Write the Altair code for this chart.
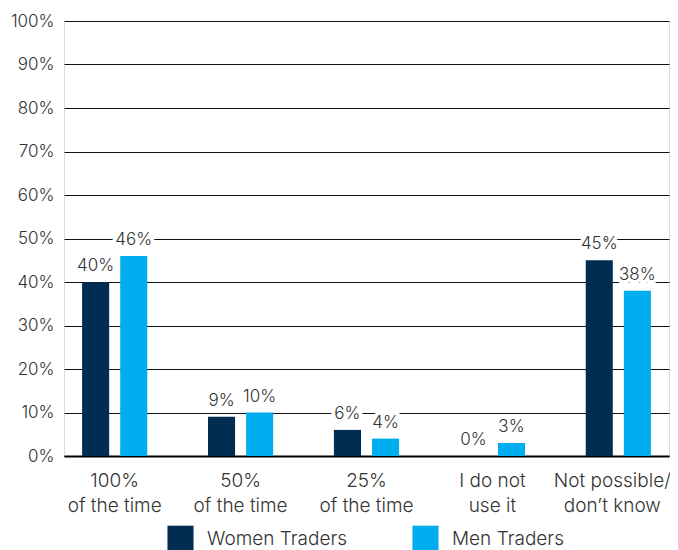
import altair as alt
import pandas as pd

categories = ["100%|of the time", "50%|of the time", "25%|of the time", "I do not|use it", "Not possible/|don\u2019t know"]
series = ["Women Traders", "Men Traders"]
women = [40, 9, 6, 0, 45]
men = [46, 10, 4, 3, 38]
colors = ["#022d52", "#00aeef"]
FONT = "Inter"
W = 300

rows = []
for c, w, m in zip(categories, women, men):
    rows.append({"cat": c, "series": series[0], "value": w, "label": f"{w}%"})
    rows.append({"cat": c, "series": series[1], "value": m, "label": f"{m}%"})
df = pd.DataFrame(rows)

x = alt.X("cat:N", sort=categories, title=None,
          scale=alt.Scale(paddingInner=0.195, paddingOuter=0),
          axis=alt.Axis(labelAngle=0, labelExpr="split(datum.label, '|')",
                        labelFontSize=19, labelColor="#333", labelFont=FONT,
                        labelFontWeight=W, labelLimit=0,
                        labelOffset={"condition": {"test": "indexof(datum.value, 'Not possible') === 0", "value": -6}, "value": 0},
                        labelPadding=15, labelLineHeight=25, ticks=False,
                        domainColor="#000", domainWidth=2, labelBaseline="top"))
xo = alt.XOffset("series:N", sort=series,
                 scale=alt.Scale(paddingInner=0.29, paddingOuter=0.475))
y = alt.Y("value:Q", title=None,
          scale=alt.Scale(domain=[0, 100], nice=False),
          axis=alt.Axis(values=list(range(0, 101, 10)), format=".0f",
                        labelExpr="datum.value + '%'", labelFontSize=17,
                        labelFontWeight=W,
                        labelColor="#333", labelFont=FONT, labelPadding=10,
                        ticks=False, domain=False, gridColor="#111",
                        gridWidth=1.2, gridOpacity=1))

color = alt.Color("series:N", sort=series,
                  scale=alt.Scale(domain=series, range=colors),
                  legend=alt.Legend(title=None, orient="none", legendX=103,
                                    legendY=504, direction="horizontal",
                                    symbolType="square", symbolSize=680,
                                    symbolStrokeWidth=0, symbolOpacity=1,
                                    labelFontSize=19, labelFont=FONT,
                                    labelFontWeight=W,
                                    labelColor="#333", labelOffset=13,
                                    columnPadding=64, padding=0))

base = alt.Chart(df)
bars = base.mark_bar().encode(x=x, xOffset=xo, y=y, color=color)
halo = base.mark_text(baseline="bottom", dy=-7, fontSize=17, font=FONT,
                      fontWeight=W,
                      stroke="white", strokeWidth=8, color="white",
                      strokeJoin="round").encode(
    x=alt.X("cat:N", sort=categories), xOffset=xo, y="value:Q", text="label:N")
labels = base.mark_text(baseline="bottom", dy=-7, fontSize=17, font=FONT,
                        fontWeight=W, color="#333").encode(
    x=alt.X("cat:N", sort=categories), xOffset=xo, y="value:Q", text="label:N")

chart = alt.layer(bars, halo, labels).properties(
    width=605, height=435,
    autosize=alt.AutoSizeParams(type="none"),
    padding={"left": 56, "top": 13, "right": 1, "bottom": 94},
).configure_view(stroke=None).configure(background="white")

chart.save("out.html", embed_options={"renderer": "svg", "actions": False})
